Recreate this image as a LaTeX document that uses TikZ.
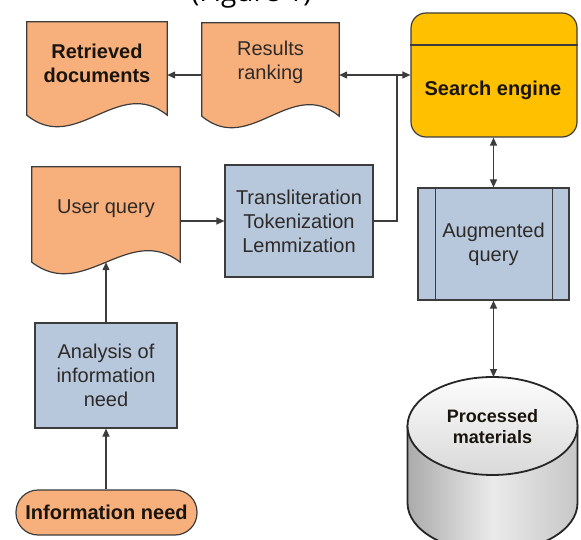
\documentclass[tikz,border=0pt]{standalone}
\usepackage{fontspec}
\setmainfont{Liberation Sans}
\newfontfamily\titlefont{Open Sans}
\usetikzlibrary{arrows.meta,calc}
\definecolor{peach}{HTML}{F7B07C}
\definecolor{bluef}{HTML}{B7C7DC}
\definecolor{gold}{HTML}{FFC000}
\definecolor{linec}{HTML}{3C3C3C}
\definecolor{txt}{HTML}{2E2A28}
\definecolor{btxt}{HTML}{1A140E}
\tikzset{
  shapeline/.style={draw=linec, line width=1.2pt},
  docfill/.style={shapeline, fill=peach},
  bluebox/.style={rectangle, shapeline, fill=bluef, inner sep=0pt, align=center, text=txt},
  holder/.style={rectangle, inner sep=0pt},
  conn/.style={draw=linec, line width=1.2pt},
  arr/.style={conn, -{Triangle[length=8pt,width=7pt]}},
  dbl/.style={conn, {Triangle[length=8pt,width=7pt]}-{Triangle[length=8pt,width=7pt]}},
  lbl/.style={align=center, text=txt, font=\fontsize{20}{24}\selectfont},
  blbl/.style={align=center, text=btxt, font=\bfseries\fontsize{20}{24}\selectfont},
}
\newcommand\mydocpath[2]{%
  \path[docfill] (#1.north west) -- (#1.north east) -- (#1.south east)
    .. controls ($(#1.south east)+(-0.35*#2,-40)$) and ($(#1.south west)+(0.35*#2,40)$) .. (#1.south west) -- cycle;}
\begin{document}
\begin{tikzpicture}[x=1pt,y=-1pt]
\useasboundingbox (0,0) rectangle (581,540);
\clip (0,0) rectangle (581,540);
% clipped caption at the top
\node[anchor=base west, inner sep=0pt, text=black, font=\titlefont\fontsize{28}{32}\selectfont] (ttl) at (191,2) {(Figure 1)};
% document shapes
\node[holder, minimum width=140pt, minimum height=93pt] (rd) at (97,68.5) {};
\node[holder, minimum width=137pt, minimum height=93pt] (rr) at (270.5,69.5) {};
\node[holder, minimum width=148pt, minimum height=95pt] (uq) at (106,214.5) {};
\mydocpath{rd}{140}
\mydocpath{rr}{137}
\mydocpath{uq}{148}
\node[blbl] (rdt) at (97,63) {Retrieved\\documents};
\node[lbl] (rrt) at (270.5,62.5) {Results\\ranking};
\node[lbl] (uqt) at (106,209) {User query};
% search engine
\node[rectangle, rounded corners=15pt, shapeline, fill=gold, inner sep=0pt, minimum width=166pt, minimum height=124pt] (se) at (494,75) {};
\coordinate (sediv) at (0,45);
\draw[shapeline] (se.west |- sediv) -- (se.east |- sediv);
\node[blbl] (set) at (493,90) {Search engine};
% blue boxes
\node[bluebox, lbl, minimum width=148pt, minimum height=112pt] (tl) at (299,221) {Transliteration\\Tokenization\\Lemmization};
\node[bluebox, lbl, minimum width=151pt, minimum height=112pt] (aq) at (493.5,244) {Augmented\\query};
\draw[shapeline] ($(aq.north west)+(18,0)$) -- ($(aq.south west)+(18,0)$);
\draw[shapeline] ($(aq.north east)+(-17,0)$) -- ($(aq.south east)+(-17,0)$);
\node[bluebox, lbl, minimum width=142pt, minimum height=105pt] (an) at (106,375.5) {Analysis of\\information\\need};
% information need
\node[rectangle, rounded corners=22pt, shapeline, fill=peach, inner sep=0pt, minimum width=181pt, minimum height=45pt, blbl] (in) at (106.5,512.5) {Information need};
% cylinder
\path[draw=black!85, line width=1.8pt, left color=black!33, right color=black!22, middle color=black!8]
  (407.5,426) -- (407.5,503) arc[start angle=180, end angle=0, x radius=85, y radius=49] -- (577.5,426) -- cycle;
\path[draw=black!85, line width=1.8pt, top color=black!1, bottom color=black!15]
  (492.5,426) ellipse[x radius=85, y radius=49];
\node[blbl, font=\bfseries\fontsize{18}{21}\selectfont] (pm) at (492.5,426.5) {Processed\\materials};
\coordinate (pmtop) at (493.5,377);
% connectors
\draw[arr] (rr.west |- se.west) -- (rd.east |- se.west);
\draw[dbl] (rr.east |- se.west) -- (se.west);
\coordinate (j) at (397,75);
\draw[conn] (tl.east) -| (j);
\draw[arr] (uq.east |- tl.west) -- (tl.west);
\draw[arr] (an.north) -- (uq.south);
\draw[arr] (an.south |- in.north) -- (an.south);
\draw[dbl] (aq.north |- se.south) -- (aq.north);
\draw[dbl] (aq.south) -- (pmtop);
\end{tikzpicture}
\end{document}
